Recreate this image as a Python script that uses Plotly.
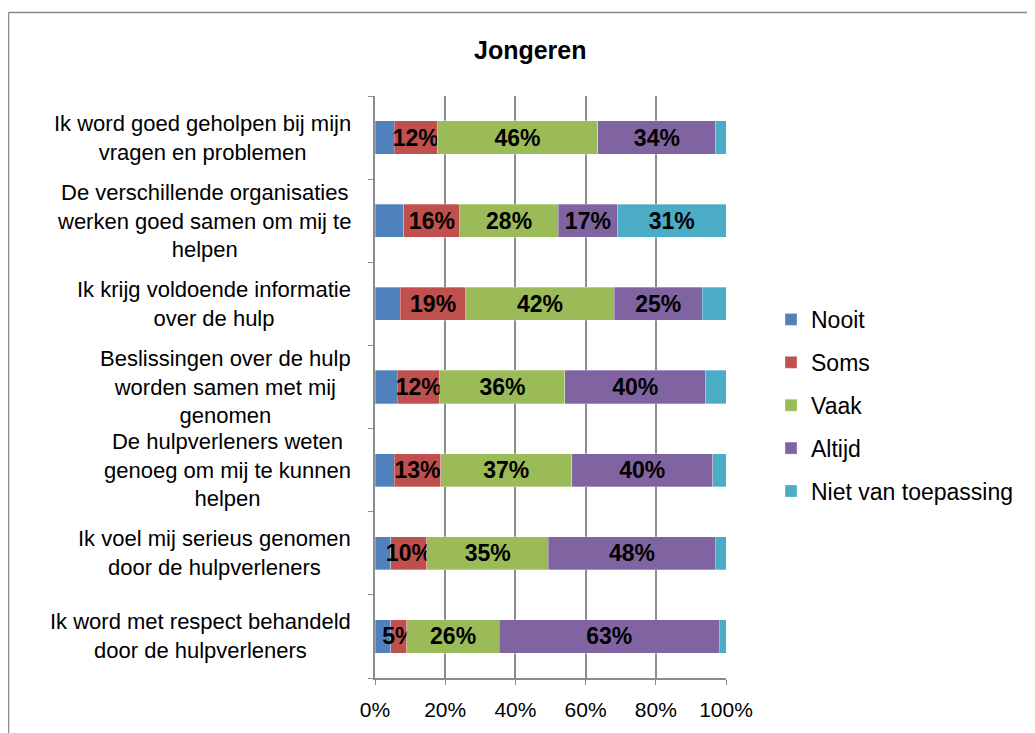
import plotly.graph_objects as go

# ─── DATA ────────────────────────────────────────────────────────────────────

CATEGORIES = [
    "Ik word goed geholpen bij mijn<br>vragen en problemen",
    "De verschillende organisaties<br>werken goed samen om mij te<br>helpen",
    "Ik krijg voldoende informatie<br>over de hulp",
    "Beslissingen over de hulp<br>worden samen met mij<br>genomen",
    "De hulpverleners weten<br>genoeg om mij te kunnen<br>helpen",
    "Ik voel mij serieus genomen<br>door de hulpverleners",
    "Ik word met respect behandeld<br>door de hulpverleners",
]

NOOIT = [5.5, 8.2, 7.2, 6.4, 5.5, 4.5, 4.5]
SOMS = [12.2, 16.0, 18.7, 12.1, 13.2, 10.3, 4.6]
VAAK = [45.8, 28.0, 42.2, 35.6, 37.4, 34.6, 26.3]
ALTIJD = [33.6, 16.9, 25.2, 40.1, 40.1, 47.6, 62.7]
NVT = [2.9, 30.9, 6.7, 5.8, 3.8, 3.0, 1.9]

SERIES = [
    ("Nooit", NOOIT, "#4F81BD"),
    ("Soms", SOMS, "#C0504D"),
    ("Vaak", VAAK, "#9BBB59"),
    ("Altijd", ALTIJD, "#8064A2"),
    ("Niet van toepassing", NVT, "#4BACC6"),
]
ALWAYS_LABELLED = {"Soms", "Vaak", "Altijd"}

X_TICKS = [0, 20, 40, 60, 80, 100]
X_TICK_TEXT = ["0%", "20%", "40%", "60%", "80%", "100%"]

# ─── LAYOUT GEOMETRY (screen pixels) ─────────────────────────────────────────

W, H = 1035, 733
OFF = 8  # page body margin pushes the figure right/down by this much
L, R, T, B = 375, 726, 96, 681
FONT = "Liberation Sans, Arial, sans-serif"
GRID = "#8C8C8C"


def px(x):
    return (x - L) / (R - L)


def py(y):
    return (B - y) / (B - T)


fig = go.Figure()
for i, (name, vals, color) in enumerate(SERIES):
    labels = [
        f"{v:.0f}%" if (name in ALWAYS_LABELLED or v >= 10) else ""
        for v in vals
    ]
    fig.add_trace(go.Bar(
        y=CATEGORIES, x=vals, name=name, orientation="h",
        marker=dict(color=color, line=dict(width=0.5, color="rgba(255,255,255,0.6)")),
        text=labels, textposition="inside", insidetextanchor="middle",
        textangle=0, constraintext="none",
        textfont=dict(family=FONT, size=23, color="black", weight="bold"),
        legendgroup=str(i), hoverinfo="x+name",
    ))

# category labels, centred lines like the original
for cat in CATEGORIES:
    fig.add_annotation(
        x=px(353), xref="paper", y=cat, yref="y", text=cat,
        xanchor="right", align="center", showarrow=False,
        font=dict(family=FONT, size=22, color="black"),
    )

fig.add_annotation(
    x=px(530), xref="paper", y=py(50), yref="paper", text="<b>Jongeren</b>",
    showarrow=False, xanchor="center", yanchor="middle",
    font=dict(family=FONT, size=25, color="black"),
)

# outer chart border (top and left visible)
fig.add_shape(type="line", xref="paper", yref="paper",
              x0=px(8.5), x1=px(1040), y0=py(12), y1=py(12),
              line=dict(color="#8A8A8A", width=1.5))
fig.add_shape(type="line", xref="paper", yref="paper",
              x0=px(8.5), x1=px(8.5), y0=py(12), y1=py(745),
              line=dict(color="#8A8A8A", width=1.5))

fig.update_layout(
    barmode="stack", bargap=0.6,
    width=W - OFF, height=H - OFF,
    margin=dict(l=L - OFF, r=W - R, t=T - OFF, b=H - B),
    paper_bgcolor="white", plot_bgcolor="white",
    font=dict(family=FONT, color="black"),
    showlegend=True,
    legend=dict(
        x=px(771), xanchor="left", y=py(299), yanchor="top",
        traceorder="grouped", tracegroupgap=10,
        font=dict(family=FONT, size=23, color="black"),
        itemwidth=30,
    ),
    xaxis=dict(
        range=[0, 100], tickvals=X_TICKS, ticktext=X_TICK_TEXT,
        showgrid=True, gridcolor=GRID, gridwidth=1.5,
        showline=True, linecolor=GRID, linewidth=1.5,
        ticks="outside", ticklen=5, tickcolor=GRID,
        tickfont=dict(family=FONT, size=21, color="black"),
        ticklabelstandoff=7, zeroline=False, fixedrange=True,
    ),
    yaxis=dict(
        categoryorder="array", categoryarray=CATEGORIES[::-1],
        autorange=True, showticklabels=False,
        showline=True, linecolor=GRID, linewidth=1.5,
        ticks="outside", ticklen=5, tickcolor=GRID, tickson="boundaries",
        showgrid=False, fixedrange=True,
    ),
)

fig.write_html("out.html")
